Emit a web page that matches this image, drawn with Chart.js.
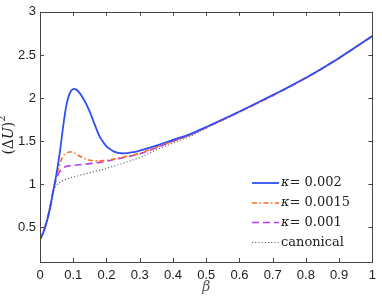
<!DOCTYPE html>
<html>
<head>
<meta charset="utf-8">
<script src="https://cdn.jsdelivr.net/npm/chart.js@4"></script>
<style>
  html, body { margin: 0; padding: 0; background: #fff; }
</style>
</head>
<body>
<canvas id="chart" width="382" height="297"></canvas>
<script>
// beta grid (x values shared by all curves)
const beta = [
  0, 0.01, 0.02, 0.03, 0.04, 0.05, 0.06, 0.07, 0.08, 0.09,
  0.10, 0.11, 0.12, 0.13, 0.14, 0.15, 0.16, 0.17, 0.18, 0.19,
  0.20, 0.21, 0.22, 0.23, 0.24, 0.25, 0.26, 0.27, 0.28, 0.29,
  0.30, 0.35, 0.40, 0.45, 0.50, 0.60, 0.70, 0.80, 0.90, 1.00,
];
const kappa002 = [
  0.36, 0.44, 0.56, 0.72, 0.93, 1.13, 1.38, 1.68, 1.93, 2.06,
  2.105, 2.095, 2.055, 1.995, 1.925, 1.84, 1.74, 1.64, 1.55, 1.49,
  1.44, 1.41, 1.385, 1.37, 1.362, 1.36, 1.362, 1.367, 1.373, 1.38,
  1.39, 1.45, 1.515, 1.58, 1.665, 1.845, 2.035, 2.235, 2.465, 2.72,
];
const kappa0015 = [
  0.36, 0.45, 0.57, 0.73, 0.92, 1.09, 1.24, 1.33, 1.365, 1.375,
  1.37, 1.35, 1.325, 1.305, 1.29, 1.28, 1.275, 1.272, 1.272, 1.275,
  1.28, 1.285, 1.29, 1.30, 1.31, 1.315, 1.325, 1.33, 1.34, 1.35,
  1.36, 1.43, 1.50, 1.57, 1.66, 1.84, 2.03, 2.235, 2.465, 2.72,
];
const kappa001 = [
  0.36, 0.45, 0.57, 0.73, 0.93, 1.07, 1.15, 1.19, 1.21, 1.215,
  1.22, 1.225, 1.228, 1.232, 1.236, 1.24, 1.245, 1.25, 1.255, 1.262,
  1.27, 1.277, 1.285, 1.293, 1.30, 1.31, 1.318, 1.326, 1.335, 1.344,
  1.353, 1.425, 1.50, 1.57, 1.66, 1.84, 2.03, 2.235, 2.465, 2.72,
];
const canonical = [
  0.36, 0.46, 0.59, 0.75, 0.91, 0.99, 1.025, 1.045, 1.06, 1.075,
  1.085, 1.095, 1.105, 1.115, 1.125, 1.135, 1.145, 1.155, 1.165, 1.175,
  1.185, 1.197, 1.209, 1.221, 1.233, 1.245, 1.258, 1.271, 1.284, 1.297,
  1.31, 1.40, 1.48, 1.555, 1.65, 1.835, 2.025, 2.23, 2.46, 2.72,
];
const seriesLabels = ['0.002', '0.0015', '0.001', 'canonical'];
const xTicks = [0, 0.1, 0.2, 0.3, 0.4, 0.5, 0.6, 0.7, 0.8, 0.9, 1];
const yTicks = [0.5, 1, 1.5, 2, 2.5, 3];

const toPoints = (ys) => ys.map((y, i) => ({ x: beta[i], y: y }));
const tickFont = { family: '"Liberation Sans", Arial, sans-serif', size: 13 };

// box, inward ticks, axis labels and the in-plot legend
const decorPlugin = {
  id: 'decor',
  afterDraw(chart) {
    const ctx = chart.ctx;
    const a = chart.chartArea;
    const xs = chart.scales.x;
    const ys = chart.scales.y;
    ctx.save();
    ctx.strokeStyle = '#444';
    ctx.lineWidth = 1;
    ctx.strokeRect(Math.round(a.left) + 0.5, Math.round(a.top) + 0.5,
      Math.round(a.right - a.left), Math.round(a.bottom - a.top));
    ctx.beginPath();
    xTicks.forEach((v) => {
      const px = Math.round(xs.getPixelForValue(v)) + 0.5;
      ctx.moveTo(px, a.bottom); ctx.lineTo(px, a.bottom - 4);
      ctx.moveTo(px, a.top); ctx.lineTo(px, a.top + 4);
    });
    yTicks.forEach((v) => {
      const py = Math.round(ys.getPixelForValue(v)) + 0.5;
      ctx.moveTo(a.left, py); ctx.lineTo(a.left + 4, py);
      ctx.moveTo(a.right, py); ctx.lineTo(a.right - 4, py);
    });
    ctx.stroke();

    // x label
    ctx.fillStyle = '#555';
    ctx.font = 'italic 14px "DejaVu Serif", serif';
    ctx.textAlign = 'center';
    ctx.textBaseline = 'middle';
    ctx.fillText('β', (a.left + a.right) / 2, 287);

    // y label (ΔU)^2, rotated
    ctx.save();
    ctx.translate(9, 135);
    ctx.rotate(-Math.PI / 2);
    ctx.fillStyle = '#222';
    ctx.textAlign = 'left';
    const parts = [
      ['(Δ', '14px "DejaVu Serif", serif', 0],
      ['U', 'italic 14px "DejaVu Serif", serif', 0],
      [')', '14px "DejaVu Serif", serif', 0],
      ['2', '10px "DejaVu Serif", serif', -7],
    ];
    let total = 0;
    parts.forEach((p) => { ctx.font = p[1]; total += ctx.measureText(p[0]).width; });
    let cx = -total / 2;
    parts.forEach((p) => {
      ctx.font = p[1];
      ctx.fillText(p[0], cx, p[2]);
      cx += ctx.measureText(p[0]).width;
    });
    ctx.restore();

    // legend
    const rowY = [183, 203, 222.5, 242.5];
    chart.data.datasets.forEach((ds, i) => {
      const y = rowY[i];
      ctx.save();
      ctx.strokeStyle = ds.borderColor;
      ctx.lineWidth = ds.borderWidth;
      ctx.setLineDash(ds.borderDash || []);
      ctx.beginPath();
      ctx.moveTo(252, y);
      ctx.lineTo(279, y);
      ctx.stroke();
      ctx.restore();
      ctx.fillStyle = '#222';
      ctx.textAlign = 'left';
      ctx.textBaseline = 'middle';
      let tx = 281;
      if (i < 3) {
        ctx.font = 'italic 13px "DejaVu Serif", serif';
        ctx.fillText('κ', tx, y);
        tx += ctx.measureText('κ').width;
        ctx.font = '13px "DejaVu Serif", serif';
        ctx.fillText('= ' + seriesLabels[i], tx, y);
      } else {
        ctx.font = '13px "DejaVu Serif", serif';
        ctx.fillText(seriesLabels[i], tx, y);
      }
    });
    ctx.restore();
  },
};

const ctx = document.getElementById('chart');
new Chart(ctx, {
  type: 'line',
  data: {
    datasets: [
      {
        label: 'κ= 0.002',
        data: toPoints(kappa002),
        borderColor: '#2f4ff5',
        borderWidth: 1.8,
      },
      {
        label: 'κ= 0.0015',
        data: toPoints(kappa0015),
        borderColor: '#ff6d1f',
        borderWidth: 1.6,
        borderDash: [5, 2.5, 1.5, 2.5],
      },
      {
        label: 'κ= 0.001',
        data: toPoints(kappa001),
        borderColor: '#b23cf5',
        borderWidth: 1.6,
        borderDash: [7, 4],
      },
      {
        label: 'canonical',
        data: toPoints(canonical),
        borderColor: '#555',
        borderWidth: 1.2,
        borderDash: [1, 2.2],
      },
    ],
  },
  options: {
    responsive: false,
    animation: false,
    elements: {
      point: { radius: 0 },
      line: { tension: 0.4, fill: false },
    },
    layout: { padding: { top: 9, right: 0, left: 0, bottom: 0 } },
    plugins: {
      legend: { display: false },
      tooltip: { enabled: false },
    },
    scales: {
      x: {
        type: 'linear',
        min: 0,
        max: 1,
        grid: { display: false, drawTicks: false },
        border: { display: false },
        afterBuildTicks: (s) => { s.ticks = xTicks.map((v) => ({ value: v })); },
        afterFit: (s) => { s.height = 35; },
        ticks: { font: tickFont, color: '#222', padding: 6, maxRotation: 0, callback: (v) => String(v) },
      },
      y: {
        type: 'linear',
        min: 0.1,
        max: 3,
        grid: { display: false, drawTicks: false },
        border: { display: false },
        afterBuildTicks: (s) => { s.ticks = yTicks.map((v) => ({ value: v })); },
        afterFit: (s) => { s.width = 40; },
        ticks: { font: tickFont, color: '#222', padding: 4, callback: (v) => String(v) },
      },
    },
  },
  plugins: [decorPlugin],
});
</script>
</body>
</html>
